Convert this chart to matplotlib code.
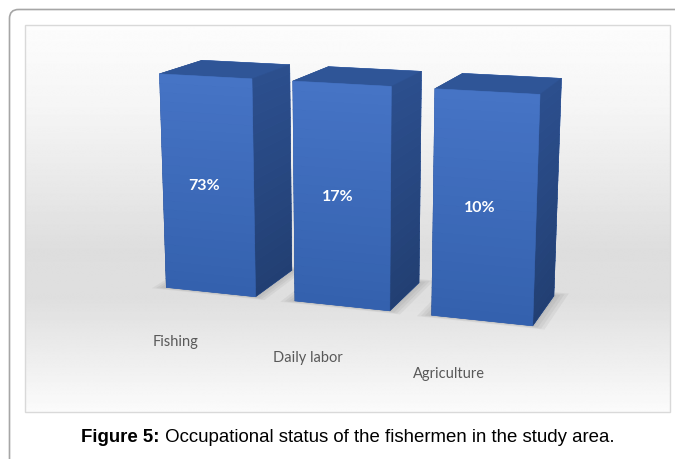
import numpy as np
import matplotlib
matplotlib.use("Agg")
import matplotlib.pyplot as plt
from matplotlib.colors import to_rgba
from matplotlib.patches import FancyBboxPatch, Rectangle

categories = ["Fishing", "Daily labor", "Agriculture"]
share_labels = ["73%", "17%", "10%"]
# the source chart draws every column at the same height, only the labels differ
column_heights = [1.0, 1.0, 1.0]

FRONT_TOP, FRONT_BOTTOM = "#4674c6", "#3461ad"
SIDE_TOP, SIDE_BOTTOM = "#2c4f8e", "#223f72"
TOP = "#2f5597"
LABEL_GREY = "#595959"
N_SEG = 24


def blend(c1, c2, t):
    a, b = np.array(to_rgba(c1)), np.array(to_rgba(c2))
    return tuple(a + (b - a) * t)


def draw_page(fig):
    bg = fig.add_axes([0, 0, 1, 1])
    bg.set_xlim(0, 675)
    bg.set_ylim(459, 0)
    bg.axis("off")

    # page border, rounded corner top-left, runs off to the right and bottom
    bg.add_patch(FancyBboxPatch((9.5, 9.5), 700, 500,
                                boxstyle="round,pad=0,rounding_size=9",
                                fill=False, ec="#a6a6a6", lw=1.2))

    # chart area with a soft vertical grey gradient
    stops_y = [25, 110, 250, 300, 412]
    stops_c = [0.99, 0.96, 0.87, 0.875, 0.985]
    yy = np.linspace(25, 412, 400)
    shade = np.interp(yy, stops_y, stops_c)
    img = np.repeat(shade[:, None], 2, axis=1)
    bg.imshow(img, cmap="gray", vmin=0, vmax=1, extent=(24.5, 669.5, 412, 25),
              aspect="auto", interpolation="bilinear")
    bg.add_patch(Rectangle((24.5, 25), 645, 387, fill=False, ec="#d9d9d9", lw=1))

    t1 = bg.text(81, 438, "Figure 5:", fontsize=13.4, fontweight="bold",
                 family="Liberation Sans", va="center")
    bg.annotate(" Occupational status of the fishermen in the study area.",
                xy=(1, 0.5), xycoords=t1, va="center", ha="left",
                fontsize=13.4, family="Liberation Sans")
    return bg


def draw_columns(fig):
    # square 3d axes centred on the chart area (the 3d projection keeps a square box)
    side = 645
    cx, cy = 342.5, 221
    rect = [(cx - side / 2) / 675, (459 - cy - side / 2) / 459, side / 675, side / 459]
    ax = fig.add_axes(rect, projection="3d", proj_type="persp", focal_length=0.42,
                      computed_zorder=False)
    xs = np.arange(len(categories))
    w, d = 0.70, 0.71

    # soft floor shadow: a few widening translucent layers
    for m in [0.015, 0.04, 0.065, 0.09]:
        ax.bar(xs, [d + 1.6 * m] * len(xs), zs=0, zdir="z", width=w + 2 * m,
               bottom=-0.6 * m, color="#505050", alpha=0.07, linewidth=0, zorder=0.5)

    # each column is stacked from thin slices so the faces get a vertical gradient
    for i, (x, h) in enumerate(zip(xs, column_heights)):
        edges = np.linspace(0, h, N_SEG + 1)
        z0 = edges[:-1]
        dz = np.diff(edges)
        face_colors = []
        for k in range(N_SEG):
            t = 1 - (k + 0.5) / N_SEG
            front = blend(FRONT_TOP, FRONT_BOTTOM, t)
            side_c = blend(SIDE_TOP, SIDE_BOTTOM, t)
            top = to_rgba(TOP) if k == N_SEG - 1 else front
            # bottom, top, front, back, left, right
            face_colors += [front, top, front, front, side_c, side_c]
        ax.bar3d(np.full(N_SEG, x - w / 2), np.zeros(N_SEG), z0,
                 w, d, dz, color=face_colors, shade=False,
                 edgecolor=face_colors, linewidth=0.4, zorder=1 + i)

    for x, h, s in zip(xs, column_heights, share_labels):
        ax.text(x - 0.03, 0, 0.5 * h, s, color="white", fontsize=11.5, zorder=10,
                fontweight="bold", family="Lato", ha="center", va="center")
    for x, name in zip(xs, categories):
        ax.text(x - 0.14, -0.3, -0.19, name, color=LABEL_GREY, fontsize=10.5,
                family="Lato", ha="center", va="center", zorder=10)

    ax.set_xlim(-0.6, 2.6)
    ax.set_ylim(-0.5, 0.9)
    ax.set_zlim(-0.25, 1.05)
    ax.set_box_aspect((3.2, 1.4, 1.3 * 1.56), zoom=1.45 * 387 / 645)
    ax.view_init(elev=14, azim=-71)
    ax.set_axis_off()
    ax.set_facecolor((0, 0, 0, 0))
    return ax


def main():
    fig = plt.figure(figsize=(6.75, 4.59), dpi=100)
    draw_page(fig)
    draw_columns(fig)
    fig.savefig("out.png", dpi=100)


if __name__ == "__main__":
    main()
